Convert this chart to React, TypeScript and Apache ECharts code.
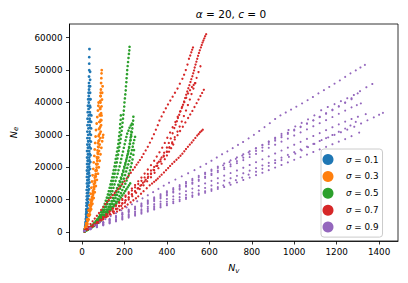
import React, { useEffect, useRef } from 'react';
import * as echarts from 'echarts';

// ---------- labels / ticks ----------
const sigmaValues = ['0.1', '0.3', '0.5', '0.7', '0.9'];
const seriesColors = ['#1f77b4', '#ff7f0e', '#2ca02c', '#d62728', '#9467bd'];
const xTickValues = [0, 200, 400, 600, 800, 1000, 1200, 1400];
const yTickValues = [0, 10000, 20000, 30000, 40000, 50000, 60000];

// ---------- σ = 0.1 runs : [N_v, N_e] ----------
const b1 = [[11,300],[14,900],[16,1800],[18,3000],[20,4500],[21,6000],[22,8000],[23,10000],[24,12000],[25,14000],[26,16000],[26,18000],[27,20000],[27,22000],[28,24000],[28,26000],[29,28000],[29,30000],[30,32000],[30,34000],[31,36000],[31,38000],[32,40000],[32,42000],[33,44000],[33,46000],[33,48000],[34,50000],[34,52000],[34,54000],[35,56500]];
const b2 = [[12,300],[15,1000],[18,2200],[20,3600],[22,5200],[24,7000],[26,9000],[27,11000],[29,13000],[30,15000],[31,17000],[32,19000],[33,21000],[34,23000],[34,25000],[35,27000],[35,29000],[36,31000],[36,33000],[36,35000],[37,37000],[37,39000],[37,41000],[38,43000],[38,45000],[38,47000],[38,49500]];
const b3 = [[11,300],[13,800],[15,1600],[17,2700],[18,4000],[19,5500],[20,7000],[21,9000],[22,11000],[22,13000],[23,15000],[23,17000],[23,19000],[24,21000],[24,23000],[24,25000],[25,27000],[25,29000],[25,31000],[26,33000],[26,35000],[27,37000],[28,39000],[29,41000],[31,43000],[33,45000]];
const b4 = [[13,350],[16,1100],[19,2300],[22,3800],[25,5500],[27,7300],[29,9200],[31,11200],[33,13200],[35,15300],[36,17400],[38,19500],[39,21600],[40,23700],[41,25800],[42,27900],[42,30000],[43,32000],[43,34000],[44,36000]];
const b5 = [[12,300],[15,1000],[18,2000],[21,3300],[23,4800],[25,6500],[27,8300],[28,10200],[30,12200],[31,14200],[32,16200],[33,18200],[34,20200],[35,22200],[36,24200],[36,26200],[37,28200],[37,30200],[38,32200],[38,34200],[39,36200],[39,38500],[40,41000]];
const b6 = [[11,300],[14,1000],[16,2000],[18,3200],[20,4700],[21,6400],[22,8200],[23,10000],[24,12000],[25,14000],[26,16000],[27,18000],[27,20000],[28,22000],[29,24000],[29,26000],[30,28000]];

// ---------- σ = 0.3 runs ----------
const o1 = [[12,300],[16,1000],[20,1800],[24,2800],[28,3900],[32,5100],[36,6400],[40,7800],[44,9300],[48,10800],[52,12400],[56,14000],[60,15700],[63,17400],[66,19100],[69,20900],[72,22700],[74,24500],[76,26300],[78,28100],[80,30000],[82,32000],[84,34000],[85,36000],[86,38000],[87,40000],[88,42000],[89,44000],[90,46000],[91,47500],[92,49000],[93,50000]];
const o2 = [[12,300],[17,1200],[22,2400],[27,3800],[32,5400],[37,7100],[42,8900],[47,10800],[52,12800],[56,14800],[60,16800],[64,18900],[67,21000],[70,23100],[73,25200],[76,27400],[78,29600],[80,31800],[82,34000],[84,36200],[85,38400],[86,40500],[87,42000],[88,43000]];
const o3 = [[13,350],[19,1300],[25,2500],[31,3900],[37,5400],[43,7000],[49,8700],[55,10500],[60,12300],[65,14200],[70,16100],[75,18000],[79,20000],[83,22000],[87,24000],[91,26000],[95,28000],[98,29200],[100,30000]];
const o4 = [[11,300],[14,900],[17,1700],[20,2700],[24,3900],[28,5200],[31,6700],[35,8300],[38,10000],[41,11800],[44,13700],[47,15600],[50,17500],[53,19500],[55,21500],[58,23500],[60,25500],[62,27500],[64,29500],[66,31500],[69,33500],[72,35500],[75,37500],[77,39000],[78,40000]];
const o5 = [[13,350],[18,1200],[23,2300],[28,3600],[33,5000],[38,6600],[43,8300],[48,10100],[53,12000],[57,13900],[61,15900],[65,17900],[69,19900],[72,22000],[75,24100],[78,26200],[81,28300],[84,30400],[86,32500],[88,34600],[90,36700],[92,38800],[94,40900],[95,43000],[97,45000]];
const o6 = [[12,300],[17,1100],[22,2200],[27,3500],[32,4900],[37,6400],[42,8000],[47,9700],[52,11500],[57,13300],[61,15200],[65,17100],[69,19000],[73,21000],[77,23000],[80,25000],[83,27000],[86,29000],[88,31000],[90,33000],[91,34500],[92,36000]];

// ---------- σ = 0.5 runs ----------
const g1 = [[12,300],[18,550],[25,800],[32,1150],[40,1500],[47,1900],[55,2300],[62,2800],[70,3300],[76,3900],[83,4500],[90,5250],[96,6000],[102,6850],[108,7700],[114,8600],[119,9500],[124,10500],[129,11500],[134,12550],[138,13600],[142,14700],[146,15800],[150,16900],[154,18000],[158,19150],[161,20300],[164,21500],[167,22700],[170,23900],[173,25100],[176,26300],[179,27500],[182,28750],[184,30000],[187,31250],[189,32500],[191,33750],[193,35000],[195,36250],[197,37500],[199,38750],[200,40000],[202,41250],[204,42500],[206,43750],[207,45000],[209,46250],[210,47500],[212,48750],[213,50000],[215,51250],[217,52500],[219,53750],[221,55000],[223,56100],[224,57200]];
const g2 = [[12,300],[21,600],[30,900],[39,1300],[48,1700],[57,2200],[66,2700],[75,3300],[84,3900],[93,4600],[101,5300],[109,6100],[117,6900],[125,7750],[132,8600],[139,9550],[146,10500],[153,11500],[159,12500],[165,13550],[171,14600],[177,15700],[183,16800],[189,17900],[194,19000],[199,20150],[204,21300],[209,22450],[213,23600],[218,24800],[222,26000],[226,27200],[229,28400],[232,29600],[235,30800],[237,32000],[239,33200],[241,34400],[242,35600]];
const g3 = [[13,300],[23,650],[33,1000],[43,1400],[53,1800],[63,2300],[73,2800],[83,3400],[92,4000],[101,4700],[110,5400],[119,6200],[127,7000],[135,7850],[143,8700],[151,9600],[158,10500],[165,11450],[172,12400],[179,13400],[185,14400],[191,15450],[197,16500],[203,17600],[208,18700],[213,19800],[218,20900],[223,22000],[227,23100],[231,24200],[235,25300],[239,26350],[242,27400],[246,28400],[250,29400]];
const g4 = [[13,300],[24,650],[35,1000],[46,1450],[57,1900],[68,2400],[78,2900],[88,3500],[98,4100],[108,4750],[117,5400],[126,6150],[135,6900],[144,7700],[152,8500],[160,9350],[168,10200],[176,11100],[183,12000],[190,12950],[197,13900],[204,14900],[210,15900],[216,16950],[221,18000],[226,19050],[230,20100],[234,21250],[238,22400],[242,23850],[245,25300]];
const g5 = [[12,300],[20,600],[28,900],[37,1300],[45,1700],[54,2200],[62,2700],[70,3300],[78,3900],[86,4600],[93,5300],[100,6100],[107,6900],[114,7800],[120,8700],[126,9650],[132,10600],[138,11600],[143,12600],[148,13650],[153,14700],[158,15800],[163,16900],[168,18000],[172,19100],[177,20250],[181,21400],[185,22550],[189,23700],[193,24850],[197,26000],[201,27150],[205,28300],[209,29350],[213,30400],[219,31300],[224,32200],[230,32900],[235,33500]];
const g6 = [[13,300],[24,700],[35,1100],[46,1600],[57,2100],[68,2650],[78,3200],[88,3850],[98,4500],[108,5100],[117,5700],[126,6300],[134,6900],[142,7400],[149,7900],[156,8350],[162,8800],[169,9400],[176,10000],[183,10650],[190,11300],[197,11950],[203,12600],[209,13200],[215,13800],[221,14400],[227,15000]];
const g7 = [[12,300],[22,600],[31,900],[41,1300],[50,1700],[60,2200],[69,2700],[78,3300],[87,3900],[96,4600],[104,5300],[112,6100],[120,6900],[128,7750],[135,8600],[142,9500],[149,10400],[156,11350],[162,12300],[168,13300],[174,14300],[180,15350],[185,16400],[190,17500],[195,18600],[200,19700],[204,20800],[208,21900],[212,23000],[216,24100],[219,25200],[222,26250],[225,27300],[227,28250],[229,29200],[231,30100],[232,31000]];
const g8 = [[12,300],[20,600],[27,900],[35,1300],[42,1700],[50,2200],[57,2700],[64,3300],[71,3900],[78,4600],[84,5300],[90,6100],[96,6900],[102,7800],[107,8700],[112,9650],[117,10600],[122,11600],[126,12600],[130,13650],[134,14700],[138,15800],[142,16900],[146,18000],[149,19100],[153,20250],[156,21400],[159,22550],[162,23700],[165,24850],[168,26000],[171,27200],[173,28400],[175,29600],[177,30800],[179,32050],[180,33300],[182,34650],[183,36000]];

// ---------- σ = 0.7 runs ----------
const r1 = [[12,300],[25,800],[40,1400],[55,2050],[70,2700],[85,3400],[100,4100],[115,4850],[130,5600],[145,6400],[160,7200],[175,8050],[190,8900],[205,9800],[220,10700],[235,11650],[250,12600],[262,13450],[275,14300],[287,15200],[300,16100],[312,17100],[325,18100],[337,19200],[350,20400],[362,21700],[375,23000],[387,24500],[400,26100],[409,27500],[418,28900],[427,30500],[435,32100],[441,33150],[447,34200],[452,35200],[458,36200],[464,37300],[470,38300],[476,39300],[481,40300],[486,41350],[491,42400],[496,43400],[501,44400],[506,45350],[511,46300],[515,47200],[520,48100],[524,49000],[528,49900],[531,50800],[535,51700],[539,52600],[543,53500],[547,54400],[551,55300],[555,56100],[560,57000],[564,57750],[568,58500],[572,59150],[576,59800],[580,60450],[585,61100]];
const r2 = [[12,300],[20,900],[30,1600],[40,2450],[50,3300],[60,4150],[70,5000],[80,5900],[90,6800],[100,7700],[110,8600],[118,9250],[126,9900],[136,10650],[145,11400],[154,12050],[162,12700],[171,13350],[180,14000],[190,14850],[200,15700],[210,16550],[220,17400],[230,18300],[240,19200],[249,20000],[257,20800],[265,21500],[273,22200],[282,23100],[290,24100],[300,25200],[310,26300],[320,27600],[330,28900],[339,30200],[348,31600],[357,33000],[365,34400],[375,35700],[385,37000],[395,38200],[405,39400],[416,40600],[427,41800],[438,43000],[450,44300],[461,45800],[473,47300],[481,48600],[489,50000],[497,51700],[504,53500],[510,54500],[515,55500],[519,56300],[523,57000]];
const r3 = [[12,300],[25,750],[40,1300],[55,1950],[70,2600],[85,3300],[100,4000],[115,4750],[130,5500],[145,6300],[160,7100],[175,7950],[190,8800],[205,9700],[220,10600],[235,11550],[250,12500],[265,13500],[280,14500],[295,15600],[310,16700],[325,17900],[340,19100],[355,20450],[370,21800],[385,23300],[400,24800],[412,26200],[425,27700],[437,29300],[450,31000],[460,32550],[470,34100],[480,35800],[490,37500],[499,39200],[508,40900],[516,42600],[525,44300],[532,45950],[540,47600],[549,49400],[558,51200]];
const r4 = [[12,300],[25,850],[40,1500],[55,2250],[70,3000],[85,3800],[100,4600],[115,5450],[130,6300],[145,7200],[160,8100],[175,9000],[190,9900],[205,10850],[220,11800],[235,12800],[250,13800],[265,14800],[280,15800],[295,16850],[310,17900],[325,19000],[340,20100],[355,21250],[370,22400],[385,23600],[400,24800],[412,26050],[425,27300],[437,28600],[450,29900],[462,31200],[475,32500],[487,33850],[500,35200],[510,36300],[520,37400],[530,38600],[540,39800],[549,40900],[558,42000],[566,42950],[574,43900]];
const r5 = [[13,400],[24,850],[35,1300],[48,1800],[60,2300],[74,2950],[88,3600],[99,4050],[110,4500],[122,4900],[135,5300],[150,5800],[165,6300],[178,6800],[190,7300],[203,7900],[215,8500],[229,9150],[242,9800],[254,10400],[265,11000],[278,11800],[290,12600],[305,13500],[319,14400],[330,14950],[340,15500],[349,16000],[357,16500],[366,17100],[375,17700],[386,18400],[396,19100],[406,19750],[415,20400],[425,21050],[435,21700],[445,22300],[455,22900],[464,23550],[473,24200],[482,24900],[490,25600],[499,26300],[508,27000],[517,27650],[525,28300],[534,29050],[543,29800],[550,30300],[556,30800],[563,31200],[569,31600]];
const r6 = [[12,300],[25,850],[40,1500],[55,2250],[70,3000],[85,3800],[100,4600],[115,5450],[130,6300],[145,7250],[160,8200],[175,9200],[190,10200],[205,11250],[220,12300],[235,13400],[250,14500],[265,15650],[280,16800],[295,18050],[310,19300],[325,20650],[340,22000],[352,23300],[365,24600],[378,26050],[390,27500],[402,29100],[415,30700],[427,32350],[440,34000],[451,35600],[462,37200],[472,38650],[482,40100],[491,41450],[500,42800],[509,43800],[518,44800],[526,45400],[534,46000]];
const r7 = [[12,300],[28,900],[45,1500],[62,2250],[80,3000],[97,3800],[115,4600],[132,5450],[150,6300],[167,7200],[185,8100],[202,9050],[220,10000],[237,11050],[255,12100],[272,13250],[290,14400],[307,15650],[325,16900],[342,18300],[360,19700],[375,21100],[390,22500],[400,23650],[410,24800],[420,25900],[430,27000]];

// ---------- σ = 0.9 runs ----------
const p1 = [[12,300],[35,1100],[60,2100],[85,3000],[110,3950],[135,4900],[160,5800],[185,6700],[210,7600],[235,8550],[260,9500],[285,10400],[310,11350],[335,12300],[360,13300],[385,14300],[410,15200],[440,16200],[470,17200],[500,18150],[530,19100],[558,20100],[585,21050],[610,22000],[635,23000],[660,24000],[685,24900],[710,25900],[735,26900],[759,27800],[785,28900],[810,30000],[835,31200],[860,32400],[885,33600],[910,34900],[935,36000],[960,36900],[985,37800],[1010,38700],[1037,39700],[1063,40700],[1088,41700],[1114,42800],[1140,43800],[1165,44800],[1190,45800],[1215,46800],[1240,47900],[1265,49000],[1290,49900],[1312,50800],[1333,51600]];
const p2 = [[12,300],[40,1150],[70,2050],[100,2950],[130,3850],[160,4750],[190,5650],[220,6550],[250,7450],[280,8400],[310,9350],[340,10300],[370,11250],[400,12200],[430,13150],[460,14100],[490,15050],[520,16000],[550,16950],[580,17900],[610,18850],[640,19800],[665,20600],[695,21600],[725,22600],[755,23600],[785,24600],[819,25800],[850,26900],[880,28000],[910,29100],[940,30300],[973,31500],[1005,32600],[1035,33700],[1065,34800],[1095,36000],[1127,37600],[1158,38600],[1190,39500],[1220,40400],[1250,41300],[1281,42300],[1310,43500],[1340,44700],[1368,45700]];
const p3 = [[12,300],[40,1100],[70,2000],[100,2850],[130,3700],[160,4550],[190,5400],[220,6300],[250,7200],[280,8100],[310,9000],[340,9900],[370,10800],[400,11700],[430,12600],[460,13500],[490,14400],[520,15300],[550,16200],[580,17100],[610,18000],[640,18950],[670,19900],[700,20900],[730,21900],[760,22950],[790,24000],[820,25050],[850,26100],[880,27150],[910,28200],[940,29250],[970,30300],[1000,31350],[1030,32400],[1060,33450],[1090,34500],[1120,35600],[1150,36700],[1180,37800],[1210,38900],[1240,40000],[1270,41300],[1299,42800]];
const p4 = [[12,300],[40,1050],[70,1900],[100,2750],[130,3600],[160,4450],[190,5300],[220,6150],[250,7000],[280,7850],[310,8700],[340,9550],[370,10400],[400,11300],[430,12200],[460,13100],[490,14000],[520,14900],[550,15800],[580,16700],[610,17600],[640,18500],[670,19400],[700,20300],[730,21250],[760,22200],[790,23150],[820,24100],[850,25050],[880,26000],[910,26950],[940,27900],[970,28850],[1000,29800],[1030,30750],[1060,31700],[1090,32650],[1120,33600],[1150,34550],[1180,35500],[1210,36500],[1240,37500],[1270,38500],[1295,39200],[1314,39700]];
const p5 = [[12,300],[40,1200],[70,2150],[100,3100],[130,4050],[160,5000],[190,5950],[220,6900],[250,7850],[280,8800],[310,9750],[340,10700],[370,11650],[400,12600],[430,13550],[460,14500],[490,15450],[520,16400],[550,17350],[580,18300],[610,19250],[640,20200],[670,21150],[700,22100],[730,23050],[760,24000],[790,24950],[820,25900],[850,26850],[880,27800],[910,28750],[940,29700],[970,30650],[1000,31600],[1030,32550],[1060,33500],[1090,34450],[1120,35450],[1150,36500],[1180,37600],[1210,38700],[1240,39900],[1270,41000]];
const p6 = [[12,300],[40,900],[70,1550],[100,2200],[130,2850],[160,3500],[190,4150],[220,4800],[250,5450],[280,6100],[310,6750],[340,7400],[370,8050],[400,8700],[430,9350],[460,10000],[490,10650],[520,11300],[550,11950],[580,12600],[610,13200],[640,13850],[666,14400],[695,15200],[725,16000],[755,16800],[785,17700],[820,18600],[850,19500],[880,20400],[910,21300],[940,22200],[975,23200],[1005,24200],[1035,25200],[1065,26200],[1095,27200],[1129,28400],[1160,29200],[1190,30000],[1220,30800],[1250,31600],[1283,32500],[1315,33500],[1345,34500],[1375,35400],[1400,36200],[1418,36800]];
const p7 = [[12,300],[40,1000],[70,1750],[100,2500],[130,3250],[160,4000],[190,4750],[220,5500],[250,6250],[280,7000],[310,7800],[340,8600],[370,9400],[400,10200],[430,11000],[460,11800],[490,12600],[520,13400],[550,14200],[580,15000],[610,15800],[640,16600],[670,17400],[700,18200],[730,19000],[760,19850],[790,20700],[820,21550],[850,22450],[880,23350],[910,24250],[940,25150],[970,26050],[1000,26950],[1030,27850],[1060,28750],[1090,29650],[1120,30550],[1150,31450],[1180,32350],[1210,33250],[1240,34100],[1270,34900],[1300,35600],[1337,36400]];
const p8 = [[12,300],[40,850],[70,1450],[100,2050],[130,2650],[160,3250],[190,3850],[220,4450],[250,5050],[280,5650],[310,6300],[340,6950],[370,7600],[400,8250],[430,8900],[460,9550],[490,10200],[520,10850],[550,11500],[580,12100],[610,12700],[640,13300],[670,13900],[700,14600],[730,15300],[760,16050],[790,16800],[820,17550],[850,18300],[880,19100],[910,19900],[940,20700],[970,21500],[1000,22300],[1030,23100],[1060,23900],[1090,24700],[1120,25500],[1150,26300],[1180,27100],[1210,27900],[1240,28700],[1270,29600],[1306,30700]];
const p9 = [[12,300],[40,950],[70,1650],[100,2350],[130,3050],[160,3750],[190,4450],[220,5150],[250,5850],[280,6550],[310,7250],[340,7950],[370,8650],[400,9350],[430,10050],[460,10750],[490,11450],[520,12150],[550,12850],[580,13600],[610,14350],[640,15100],[670,15850],[700,16600],[730,17350],[760,18150],[790,18950],[820,19750],[850,20550],[880,21350],[910,22150],[940,22950],[970,23800],[1000,24650],[1030,25500],[1060,26350],[1090,27200],[1120,28100],[1150,29000],[1180,29950],[1210,30950],[1240,31950],[1265,32900],[1290,34000]];

const runsBySigma = [
  [b1, b2, b3, b4, b5, b6],
  [o1, o2, o3, o4, o5, o6],
  [g1, g2, g3, g4, g5, g6, g7, g8],
  [r1, r2, r3, r4, r5, r6, r7],
  [p1, p2, p3, p4, p5, p6, p7, p8, p9],
];
const markerSizes = [2.8, 2.8, 2.6, 2.3, 2.1];

const FONT = 'DejaVu Sans';

export default function App() {
  const ref = useRef<HTMLDivElement>(null);
  useEffect(() => {
    const chart = echarts.init(ref.current!, null, { renderer: 'svg' });
    const series = sigmaValues.map((s, i) => ({
      type: 'scatter',
      name: `σ = ${s}`,
      data: ([] as number[][]).concat(...runsBySigma[i]),
      symbol: 'circle',
      symbolSize: markerSizes[i],
      itemStyle: { color: seriesColors[i], opacity: 1 },
      emphasis: { disabled: true },
      silent: true,
    }));
    chart.setOption({
      animation: false,
      backgroundColor: '#ffffff',
      title: {
        text: '{i|α} = 20, {i|c} = 0',
        left: 231,
        top: 8,
        textAlign: 'center',
        padding: 0,
        textStyle: {
          fontSize: 10.5,
          fontWeight: 'normal',
          color: '#000',
          fontFamily: FONT,
          rich: { i: { fontStyle: 'italic', fontSize: 10.5, fontFamily: FONT, color: '#000' } },
        },
      },
      grid: {
        left: 63,
        right: 10,
        top: 24,
        bottom: 42,
        show: true,
        borderColor: '#000',
        borderWidth: 0.8,
        backgroundColor: 'transparent',
      },
      legend: {
        orient: 'vertical',
        left: 321,
        top: 149,
        itemWidth: 26,
        itemHeight: 11,
        itemGap: 5.9,
        padding: [5, 4, 4.5, 1.5],
        icon: 'circle',
        borderColor: '#cccccc',
        borderWidth: 1,
        borderRadius: 3,
        backgroundColor: 'rgba(255,255,255,0.8)',
        selectedMode: false,
        formatter: (name: string) => name.replace('σ', '{i|σ}'),
        textStyle: {
          fontSize: 8.8,
          color: '#000',
          fontFamily: FONT,
          rich: { i: { fontStyle: 'italic', fontSize: 8.8, fontFamily: FONT, color: '#000' } },
        },
        data: sigmaValues.map((s) => `σ = ${s}`),
      },
      xAxis: {
        type: 'value',
        min: -59,
        max: 1489,
        name: '{i|N}{s|v}',
        nameLocation: 'middle',
        nameGap: 20,
        nameTextStyle: {
          color: '#000',
          rich: {
            i: { fontStyle: 'italic', fontSize: 9.5, fontFamily: FONT, color: '#000' },
            s: { fontStyle: 'italic', fontSize: 7, fontFamily: FONT, color: '#000', padding: [6, 0, 0, 0] },
          },
        },
        axisLine: { show: true, onZero: false, lineStyle: { color: '#000', width: 0.8 } },
        axisTick: { show: true, length: 3.5, customValues: xTickValues, lineStyle: { color: '#000', width: 0.8 } },
        axisLabel: {
          customValues: xTickValues,
          formatter: (v: number) => String(v),
          fontSize: 8.8,
          color: '#000',
          fontFamily: FONT,
          margin: 6,
        },
        splitLine: { show: false },
      },
      yAxis: {
        type: 'value',
        min: -2784,
        max: 64240,
        name: '{i|N}{s|e}',
        nameLocation: 'middle',
        nameRotate: 90,
        nameGap: 50,
        nameTextStyle: {
          color: '#000',
          rich: {
            i: { fontStyle: 'italic', fontSize: 9.5, fontFamily: FONT, color: '#000' },
            s: { fontStyle: 'italic', fontSize: 7, fontFamily: FONT, color: '#000', padding: [6, 0, 0, 0] },
          },
        },
        axisLine: { show: true, onZero: false, lineStyle: { color: '#000', width: 0.8 } },
        axisTick: { show: true, length: 3.5, customValues: yTickValues, lineStyle: { color: '#000', width: 0.8 } },
        axisLabel: {
          customValues: yTickValues,
          formatter: (v: number) => String(v),
          fontSize: 8.8,
          color: '#000',
          fontFamily: FONT,
          margin: 7,
        },
        splitLine: { show: false },
      },
      series,
    });
    return () => chart.dispose();
  }, []);
  return (
    <div
      ref={ref}
      style={{ position: 'fixed', left: 0, top: 0, width: 408, height: 283, background: '#fff' }}
    />
  );
}
